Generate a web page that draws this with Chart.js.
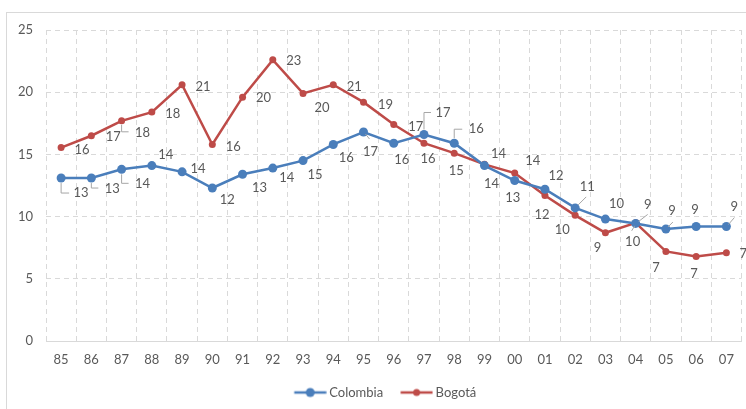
<!DOCTYPE html>
<html>
<head>
<meta charset="utf-8">
<script src="https://cdn.jsdelivr.net/npm/chart.js@4.4.0/dist/chart.umd.min.js"></script>
<style>
  html, body { margin: 0; padding: 0; background: #fff; overflow: hidden; }
  #wrap { width: 746px; height: 409px; overflow: hidden; }
</style>
</head>
<body>
<div id="wrap"><canvas id="chart" width="746" height="425"></canvas></div>
<script>
const years = ['85','86','87','88','89','90','91','92','93','94','95','96','97','98','99','00','01','02','03','04','05','06','07'];
const colombia = [13.1, 13.1, 13.8, 14.1, 13.6, 12.3, 13.4, 13.9, 14.5, 15.8, 16.8, 15.9, 16.6, 15.9, 14.1, 12.9, 12.2, 10.7, 9.8, 9.45, 9.0, 9.2, 9.2];
const bogota = [15.55, 16.5, 17.7, 18.4, 20.6, 15.8, 19.6, 22.6, 19.9, 20.6, 19.2, 17.4, 15.9, 15.1, 14.2, 13.5, 11.7, 10.1, 8.7, 9.5, 7.2, 6.8, 7.1];
const yTicks = [0, 5, 10, 15, 20, 25];

const BLUE = '#4a7ebb', RED = '#be4b48', TEXT = '#595959', GRID = '#d9d9d9';
const FONT = 'Lato, "Open Sans", sans-serif';
const FS = 13;

// where each value label sits, relative to its point
const blueLabelAt = [[20,15],[21,11],[21,14],[14,-11],[16,-3],[15,12],[17,14],[14,10],[12,14],[13,13],[7,20],[8,17],
  [19,-22],[22,-14],[7,18],[-2,17],[11,-13],[12,-21],[11,-15],[12,-19],[6,-18],[-1,-17],[8,-20]];
const redLabelAt = [[21,2],[22,1],[21,12],[21,2],[21,2],[21,2],[21,1],[21,1],[19,14],[21,2],[22,3],[22,2],
  [4,16],[2,18],[14,-11],[18,-12],[-3,19],[-13,14],[-8,15],[-3,19],[-10,16],[-2,17],[17,1]];
// leader lines for labels that were pushed away from their point
const blueLeaders = {0: [[0,5],[0,15],[8,15]], 1: [[0,5],[0,10],[7,10]], 2: [[0,5],[0,14],[7,14]],
  10: [[2,2],[6,7]], 12: [[0,-5],[0,-22],[7,-22]], 13: [[0,-5],[0,-14],[8,-14]],
  17: [[3,-3],[11,-11]], 19: [[3,-2],[12,-9]], 20: [[2,-2],[7,-7]], 22: [[2,-2],[8,-9]]};
const redLeaders = {2: [[0,4],[0,11],[7,11]], 19: [[-1,3],[-4,8]]};

// legend marker: short line with a dot, like the series it stands for
const LEG_BOX = 42, LEG_LINE = 32, LEG_GAP = 3;
function legendMark(color, r) {
  const end = LEG_BOX + FS / 2 - LEG_GAP, start = end - LEG_LINE;
  const half = Math.ceil(Math.max(LEG_BOX / 2 - start, end - LEG_BOX / 2));
  const off = half - LEG_BOX / 2;
  const c = document.createElement('canvas');
  c.width = half * 2; c.height = 12;
  const g = c.getContext('2d');
  g.strokeStyle = color; g.lineWidth = 2.5;
  g.beginPath(); g.moveTo(start + off, 6); g.lineTo(end + off, 6); g.stroke();
  g.fillStyle = color;
  g.beginPath(); g.arc((start + end) / 2 + off, 6, r, 0, Math.PI * 2); g.fill();
  return c;
}
const marks = [legendMark(BLUE, 4.5), legendMark(RED, 3.5)];

const frame = {
  id: 'frame',
  beforeDraw(chart) {
    const ctx = chart.ctx;
    ctx.save();
    ctx.fillStyle = '#fff';
    ctx.fillRect(0, 0, chart.width, chart.height);
    ctx.strokeStyle = GRID; ctx.lineWidth = 1;
    ctx.strokeRect(6.5, 12.5, 800, 500);
    ctx.restore();
  }
};

const valueLabels = {
  id: 'valueLabels',
  afterDatasetsDraw(chart) {
    const ctx = chart.ctx;
    ctx.save();
    ctx.font = FS + 'px ' + FONT;
    ctx.textAlign = 'center';
    ctx.textBaseline = 'middle';
    chart.data.datasets.forEach((ds, di) => {
      chart.getDatasetMeta(di).data.forEach((pt, i) => {
        const lead = ds.leaders[i];
        if (lead) {
          ctx.strokeStyle = '#a6a6a6'; ctx.lineWidth = 1;
          ctx.beginPath();
          lead.forEach(([lx, ly], k) => k ? ctx.lineTo(pt.x + lx, pt.y + ly) : ctx.moveTo(pt.x + lx, pt.y + ly));
          ctx.stroke();
        }
        const [dx, dy] = ds.labelAt[i];
        ctx.fillStyle = TEXT;
        ctx.fillText(String(Math.round(ds.data[i])), pt.x + dx, pt.y + dy);
      });
    });
    ctx.restore();
  }
};

new Chart(document.getElementById('chart'), {
  type: 'line',
  data: {
    labels: years,
    datasets: [
      { label: 'Colombia', data: colombia, borderColor: BLUE, backgroundColor: BLUE, borderWidth: 2.5,
        pointRadius: 4.5, pointBorderWidth: 0, clip: false, labelAt: blueLabelAt, leaders: blueLeaders },
      { label: 'Bogotá', data: bogota, borderColor: RED, backgroundColor: RED, borderWidth: 2.5,
        pointRadius: 3.5, pointBorderWidth: 0, clip: false, labelAt: redLabelAt, leaders: redLeaders }
    ]
  },
  options: {
    responsive: false,
    animation: false,
    events: [],
    layout: { padding: { left: 14, right: 3, top: 30, bottom: 16 } },
    plugins: {
      tooltip: { enabled: false },
      legend: {
        position: 'bottom',
        labels: {
          usePointStyle: true,
          pointStyleWidth: LEG_BOX,
          padding: 4,
          color: TEXT,
          font: { family: FONT, size: FS },
          generateLabels(chart) {
            const items = Chart.defaults.plugins.legend.labels.generateLabels(chart);
            items.forEach((it, i) => { it.pointStyle = marks[i]; });
            return items;
          }
        }
      }
    },
    scales: {
      x: {
        offset: true,
        grid: { offset: true, color: GRID, drawTicks: false },
        border: { display: true, color: GRID, dash: [5, 4] },
        ticks: { color: TEXT, font: { family: FONT, size: FS }, padding: 11, maxRotation: 0, autoSkip: false },
        afterFit(scale) { scale.height = 41; }
      },
      y: {
        min: 0, max: 25,
        afterBuildTicks(scale) { scale.ticks = yTicks.map(v => ({ value: v })); },
        grid: { color: GRID, drawTicks: false },
        border: { display: false, dash: [5, 4] },
        ticks: { color: TEXT, font: { family: FONT, size: FS }, padding: 13 },
        afterFit(scale) { scale.width = 32; }
      }
    }
  },
  plugins: [frame, valueLabels]
});
</script>
</body>
</html>
